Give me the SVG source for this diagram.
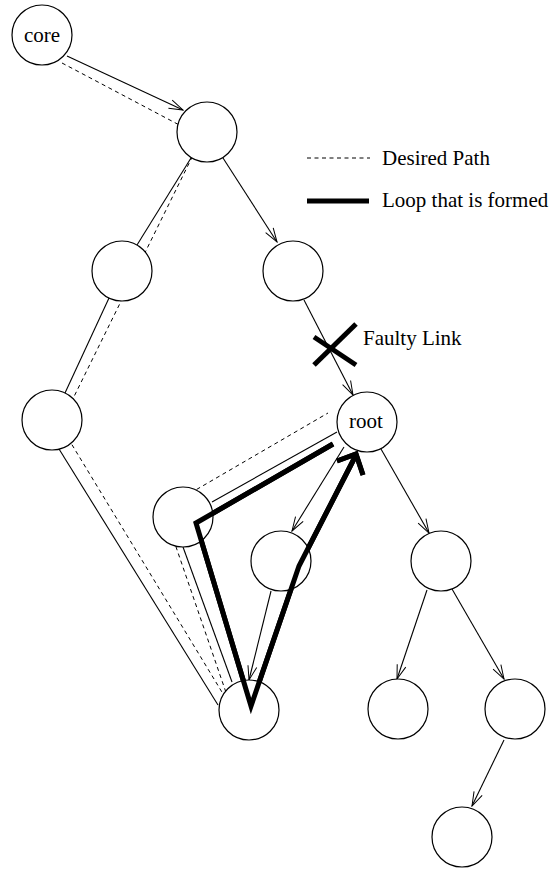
<svg xmlns="http://www.w3.org/2000/svg" width="558" height="869" viewBox="0 0 558 869">
  <style>
    .node circle { fill: #fff; stroke: #000; stroke-width: 1.2; }
    .lbl { font-family: "Liberation Serif", "Times New Roman", serif; font-size: 21px; fill: #000; }
    .edge { fill: none; stroke: #000; stroke-width: 1.1; }
    .arr { marker-end: url(#open); }
    .dash { fill: none; stroke: #000; stroke-width: 1; stroke-dasharray: 4 3.5; }
    .thick { fill: none; stroke: #000; stroke-width: 5; stroke-linejoin: miter; }
  </style>
  <defs>
    <marker id="open" viewBox="-15 -6 16 12" refX="0" refY="0" markerWidth="16" markerHeight="12" markerUnits="userSpaceOnUse" orient="auto">
      <path d="M-14,-4.5 L0,0 L-14,4.5" fill="none" stroke="#000" stroke-width="1"/>
    </marker>
  </defs>
  <rect width="558" height="869" fill="#fff"/>

  <!-- tree links, desired path, loop and fault mark -->
  <g id="connectors">
    <line class="edge arr" x1="67" y1="56" x2="183" y2="110"/>
    <line class="edge" x1="191" y1="158" x2="137" y2="245"/>
    <line class="edge arr" x1="223" y1="158" x2="277" y2="242"/>
    <line class="edge" x1="109" y1="298" x2="65" y2="393"/>
    <line class="edge arr" x1="304" y1="300" x2="353" y2="395"/>
    <line class="edge" x1="59" y1="449" x2="218" y2="705"/>
    <line class="edge" x1="337" y1="432" x2="212" y2="502"/>
    <line class="edge arr" x1="344" y1="447" x2="292" y2="531"/>
    <line class="edge arr" x1="381" y1="449" x2="429" y2="533"/>
    <line class="edge" x1="183" y1="547" x2="232" y2="682"/>
    <line class="edge arr" x1="271" y1="591" x2="249" y2="680"/>
    <line class="edge arr" x1="427" y1="590" x2="397" y2="679"/>
    <line class="edge arr" x1="452" y1="589" x2="504" y2="679"/>
    <line class="edge arr" x1="504" y1="740" x2="472" y2="806"/>

    <!-- desired path -->
    <polyline class="dash" points="62,63 202,137 60,425 231,707 163,509 328,413"/>

    <!-- loop that is formed -->
    <polyline class="thick" points="333,444 196,523 251,706 299,566 356,455"/>
    <polyline class="thick" points="337,461 356,454 363,475"/>

    <!-- faulty link mark -->
    <line class="thick" x1="314" y1="337" x2="356" y2="365"/>
    <line class="thick" x1="356" y1="324" x2="314" y2="365"/>
  </g>

  <g id="n-core" class="node"><circle cx="42" cy="35" r="30"/><text class="lbl" x="42" y="42" text-anchor="middle">core</text></g>
  <g id="n-a" class="node"><circle cx="207" cy="132" r="30"/></g>
  <g id="n-b" class="node"><circle cx="122" cy="271" r="30"/></g>
  <g id="n-c" class="node"><circle cx="293" cy="271" r="30"/></g>
  <g id="n-d" class="node"><circle cx="52" cy="420" r="30"/></g>
  <g id="n-root" class="node"><circle cx="367" cy="422" r="30"/><text class="lbl" x="366" y="428" text-anchor="middle">root</text></g>
  <g id="n-e" class="node"><circle cx="183" cy="517" r="30"/></g>
  <g id="n-f" class="node"><circle cx="281" cy="561" r="30"/></g>
  <g id="n-g" class="node"><circle cx="249" cy="710" r="30"/></g>
  <g id="n-h" class="node"><circle cx="441" cy="561" r="30"/></g>
  <g id="n-i" class="node"><circle cx="398" cy="709" r="30"/></g>
  <g id="n-j" class="node"><circle cx="515" cy="709" r="30"/></g>
  <g id="n-k" class="node"><circle cx="462" cy="837" r="30"/></g>

  <!-- redraw loop over node outlines -->
  <g id="loop-over">
    <polyline class="thick" points="333,444 196,523 251,706 299,566 356,455"/>
    <polyline class="thick" points="337,461 356,454 363,475"/>
  </g>

  <g id="legend">
    <line class="dash" x1="307" y1="158" x2="370" y2="158"/>
    <text class="lbl" x="382" y="165">Desired Path</text>
    <line x1="307" y1="201" x2="369" y2="201" stroke="#000" stroke-width="5"/>
    <text class="lbl" x="382" y="207">Loop that is formed</text>
    <text class="lbl" x="363" y="345">Faulty Link</text>
  </g>
</svg>
